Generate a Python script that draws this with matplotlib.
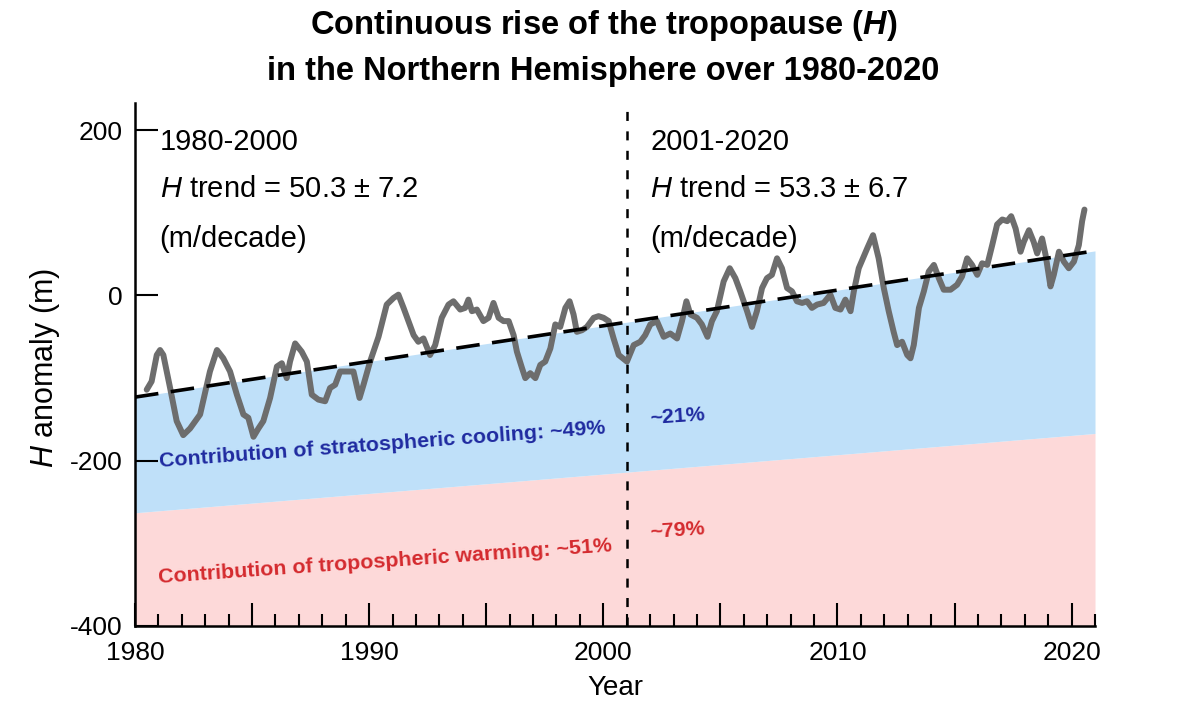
"""
Tropopause height anomaly (H) over the Northern Hemisphere, 1980-2020,
with the trend line and the cooling / warming contribution bands.
"""
import numpy as np
import matplotlib
matplotlib.use("Agg")
import matplotlib.pyplot as plt
from matplotlib.ticker import MultipleLocator, FuncFormatter

plt.rcParams["font.family"] = ["Liberation Sans", "DejaVu Sans"]
plt.rcParams["mathtext.fontset"] = "custom"
plt.rcParams["mathtext.rm"] = "Liberation Sans"
plt.rcParams["mathtext.it"] = "Liberation Sans:italic"
plt.rcParams["mathtext.bf"] = "Liberation Sans:bold"
plt.rcParams["mathtext.bfit"] = "Liberation Sans:italic:bold"
plt.rcParams["lines.scale_dashes"] = False
plt.rcParams["axes.unicode_minus"] = False

# --- data ---
years = [1980.50, 1980.71, 1980.93, 1981.07, 1981.21, 1981.50, 1981.78, 1982.06, 1982.35, 1982.78,
         1983.20, 1983.50, 1983.77, 1984.06, 1984.35, 1984.63, 1984.84, 1985.06, 1985.27, 1985.48,
         1985.77, 1986.06, 1986.27, 1986.48, 1986.62, 1986.84, 1987.12, 1987.34, 1987.55, 1987.83,
         1988.12, 1988.33, 1988.55, 1988.76, 1989.05, 1989.33, 1989.59, 1989.76, 1990.04, 1990.40,
         1990.75, 1991.04, 1991.25, 1991.47, 1991.68, 1991.90, 1992.10, 1992.32, 1992.60, 1992.82,
         1993.10, 1993.39, 1993.60, 1993.89, 1994.10, 1994.24, 1994.39, 1994.60, 1994.88, 1995.10,
         1995.31, 1995.53, 1995.74, 1995.96, 1996.17, 1996.31, 1996.53, 1996.67, 1996.88, 1997.10,
         1997.31, 1997.52, 1997.74, 1997.95, 1998.16, 1998.38, 1998.56, 1998.73, 1998.87, 1999.09,
         1999.30, 1999.59, 1999.80, 2000.01, 2000.23, 2000.44, 2000.66, 2001.01, 2001.30, 2001.58,
         2001.79, 2002.01, 2002.29, 2002.58, 2002.86, 2003.15, 2003.36, 2003.55, 2003.72, 2004.00,
         2004.21, 2004.45, 2004.64, 2004.85, 2005.14, 2005.40, 2005.64, 2005.85, 2006.14, 2006.35,
         2006.56, 2006.78, 2006.99, 2007.20, 2007.42, 2007.63, 2007.85, 2008.06, 2008.27, 2008.49,
         2008.70, 2008.91, 2009.13, 2009.41, 2009.70, 2009.91, 2010.13, 2010.34, 2010.56, 2010.70,
         2010.91, 2011.27, 2011.52, 2011.76, 2011.98, 2012.19, 2012.40, 2012.55, 2012.76, 2012.98,
         2013.12, 2013.26, 2013.48, 2013.69, 2013.90, 2014.12, 2014.33, 2014.54, 2014.83, 2015.11,
         2015.32, 2015.54, 2015.75, 2015.97, 2016.18, 2016.40, 2016.61, 2016.82, 2017.04, 2017.25,
         2017.42, 2017.61, 2017.82, 2017.96, 2018.18, 2018.38, 2018.53, 2018.74, 2018.89, 2019.10,
         2019.24, 2019.46, 2019.67, 2019.88, 2020.10, 2020.31, 2020.45, 2020.55]
h_anom = [-114, -104, -72, -66, -72, -112, -152, -169, -161, -144,
          -92, -66, -76, -92, -120, -144, -148, -171, -161, -152,
          -124, -86, -82, -100, -80, -58, -68, -80, -120, -126,
          -128, -112, -108, -92, -92, -92, -124, -108, -80, -50,
          -11, -3, 1, -15, -31, -48, -56, -52, -72, -60,
          -27, -11, -7, -17, -15, -5, -19, -17, -31, -27,
          -9, -27, -31, -31, -48, -68, -88, -100, -94, -100,
          -84, -80, -64, -35, -38, -15, -7, -23, -44, -42,
          -38, -27, -25, -27, -31, -52, -72, -80, -60, -56,
          -48, -35, -31, -50, -46, -52, -31, -7, -23, -27,
          -35, -50, -31, -19, 17, 33, 21, 5, -19, -38,
          -19, 9, 21, 25, 45, 33, 9, 5, -7, -9,
          -7, -15, -11, -9, 1, -15, -17, -5, -19, 5,
          33, 57, 73, 45, 9, -19, -44, -60, -56, -72,
          -76, -60, -15, 5, 29, 37, 21, 7, 7, 13,
          23, 45, 37, 25, 39, 37, 61, 86, 92, 90,
          96, 81, 53, 65, 79, 65, 51, 69, 49, 11,
          25, 53, 41, 33, 41, 61, 90, 104]

band_years = [1980, 2021]
trend_line = [-123, 54]        # dashed H trend (top of blue band)
band_split = [-263, -167]      # limit between cooling (blue) and warming (pink)
band_floor = [-400, -400]
split_year = 2001

periods = ["1980-2000", "2001-2020"]
trends = ["50.3 \u00b1 7.2", "53.3 \u00b1 6.7"]
strato_pct = ["~49%", "~21%"]
tropo_pct = ["~51%", "~79%"]

BLUE_FILL = "#bfe0f9"
PINK_FILL = "#fdd9d9"
BLUE_TXT = "#1f2aa0"
RED_TXT = "#d42a2e"

fig = plt.figure(figsize=(12, 7.05), dpi=100)
ax = fig.add_axes([0.1125, 0.1121, 0.8, 0.7418])

# bandes de contribution
ax.fill_between(band_years, band_floor, band_split, color=PINK_FILL, lw=0, zorder=0)
ax.fill_between(band_years, band_split, trend_line, color=BLUE_FILL, lw=0, zorder=0)

# serie + tendance + separation des periodes
ax.plot(years, h_anom, color="#6d6d6d", lw=4.3, solid_joinstyle="round",
        solid_capstyle="round", zorder=2)
ax.plot(band_years, trend_line, color="black", lw=2.6, dashes=(17, 9), zorder=3)
ax.axvline(split_year, color="black", lw=1.8, dashes=(6.5, 7.5), zorder=3)

ax.set_xlim(1980, 2021)
ax.set_ylim(-400, 233)

# textes des periodes
for x0, per, tr in zip([1981.05, 2002.0], periods, trends):
    ax.text(x0, 186, per, fontsize=21, va="center", ha="left")
    ax.text(x0, 129, f"$H$ trend = {tr}", fontsize=21, va="center", ha="left")
    ax.text(x0, 68, "(m/decade)", fontsize=21, va="center", ha="left")

ax.text(1990.55, -181, f"Contribution of stratospheric cooling: {strato_pct[0]}",
        color=BLUE_TXT, fontsize=15.4, fontweight="bold", rotation=4.3,
        rotation_mode="anchor", ha="center", va="center", zorder=4)
ax.text(1990.7, -322, f"Contribution of tropospheric warming: {tropo_pct[0]}",
        color=RED_TXT, fontsize=15.4, fontweight="bold", rotation=4.0,
        rotation_mode="anchor", ha="center", va="center", zorder=4)
ax.text(2003.15, -146, strato_pct[1], color=BLUE_TXT, fontsize=15.4,
        fontweight="bold", rotation=4, ha="center", va="center")
ax.text(2003.15, -284, tropo_pct[1], color=RED_TXT, fontsize=15.4,
        fontweight="bold", rotation=4, ha="center", va="center")

# axes
for side in ("top", "right"):
    ax.spines[side].set_visible(False)
for side in ("left", "bottom"):
    ax.spines[side].set_linewidth(1.8)

ax.set_yticks([-400, -200, 0, 200])
ax.xaxis.set_major_locator(MultipleLocator(5))
ax.xaxis.set_minor_locator(MultipleLocator(1))
ax.xaxis.set_major_formatter(FuncFormatter(lambda v, p: f"{v:.0f}" if round(v) % 10 == 0 else ""))
ax.tick_params(axis="both", which="major", direction="in", length=16.5, width=1.5,
               labelsize=19, colors="black")
ax.tick_params(axis="x", which="minor", direction="in", length=8.5, width=1.5)
ax.tick_params(axis="y", pad=9)
ax.tick_params(axis="x", pad=11)

ax.text(-0.094, 0.493, "$H$ anomaly (m)", transform=ax.transAxes, rotation=90,
        fontsize=22, ha="center", va="center")
ax.text(0.5, -0.119, "Year", transform=ax.transAxes, fontsize=20,
        ha="center", va="center")

# titre
fig.text(0.503, 0.9645, r"Continuous rise of the tropopause ($\mathbfit{H}$)",
         fontsize=23.5, fontweight="bold", ha="center", va="center")
fig.text(0.503, 0.898, "in the Northern Hemisphere over 1980-2020",
         fontsize=23.5, fontweight="bold", ha="center", va="center")

fig.savefig("out.png", dpi=100)
